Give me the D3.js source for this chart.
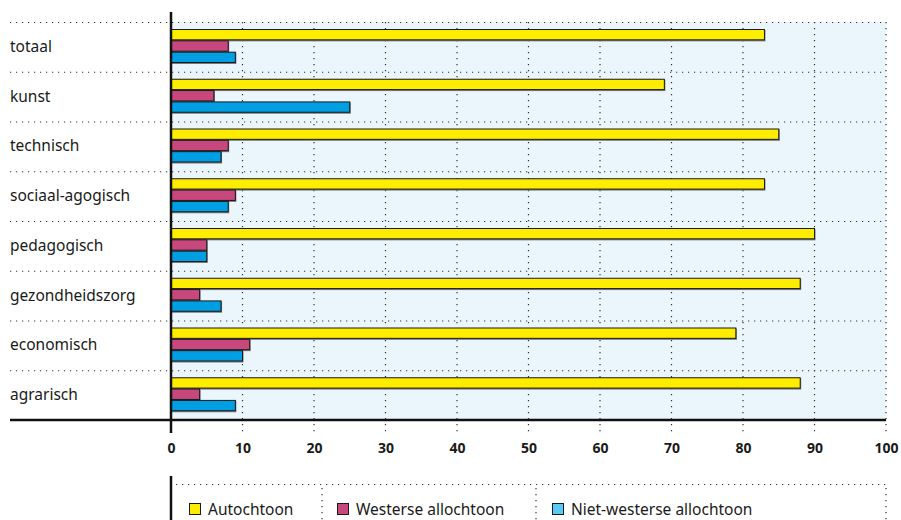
<!DOCTYPE html>
<html><head><meta charset="utf-8">
<script src="https://cdn.jsdelivr.net/npm/d3@7"></script>
<style>body{margin:0;background:#fff;}svg{display:block;}</style>
</head><body>
<svg id="c" width="901" height="520"></svg>
<script>
const categories = ["totaal","kunst","technisch","sociaal-agogisch","pedagogisch","gezondheidszorg","economisch","agrarisch"];
const seriesNames = ["Autochtoon","Westerse allochtoon","Niet-westerse allochtoon"];
const autochtoon = [83,69,85,83,90,88,79,88];
const westerse = [8,6,8,9,5,4,11,4];
const nietWesterse = [9,25,7,8,5,7,10,9];
const tickValues = [0,10,20,30,40,50,60,70,80,90,100];

const barColors = ["#ffed00","#c8487e","#009fe3"];
const legendColors = ["#ffed00","#c8487e","#5bc8f5"];
const series = [autochtoon, westerse, nietWesterse];

const svg = d3.select("#c");
const x = d3.scaleLinear().domain([0,100]).range([171,886]);
const y = d3.scaleBand().domain(categories).range([22,420]);
const inner = d3.scaleBand().domain(d3.range(3)).range([7,41]);
const font = "'Noto Sans', 'Open Sans', sans-serif";

svg.append("rect").attr("x",x(0)).attr("y",22).attr("width",x(100)-x(0)).attr("height",420-22).attr("fill","#eaf5fc");

categories.forEach(c=>{
  svg.append("line").attr("x1",10).attr("x2",x(100)).attr("y1",y(c)+0.5).attr("y2",y(c)+0.5)
    .attr("stroke","#333").attr("stroke-width",1.2).attr("stroke-dasharray","1.2,4.8");
});
tickValues.slice(1).forEach(t=>{
  svg.append("line").attr("x1",x(t)).attr("x2",x(t)).attr("y1",22).attr("y2",433)
    .attr("stroke","#333").attr("stroke-width",1.2).attr("stroke-dasharray","1.2,4.8");
});

series.forEach((vals,si)=>{
  const g = svg.append("g");
  g.selectAll("rect.sh").data(vals).join("rect")
    .attr("x",x(0)).attr("y",(d,i)=>y(categories[i])+inner(si)+1)
    .attr("width",d=>x(d)-x(0)+1).attr("height",inner.bandwidth())
    .attr("fill","#777");
  g.selectAll("rect.b").data(vals).join("rect")
    .attr("x",x(0)).attr("y",(d,i)=>y(categories[i])+inner(si)+0.5)
    .attr("width",d=>x(d)-x(0)).attr("height",inner.bandwidth()-1)
    .attr("fill",barColors[si]).attr("stroke","#1a1a1a").attr("stroke-width",1);
});

svg.selectAll("text.cat").data(categories).join("text")
  .attr("x",10).attr("y",c=>y(c)+y.bandwidth()/2+5)
  .attr("font-family",font).attr("font-size",15.5).attr("fill","#1a1a1a").text(c=>c);

svg.append("line").attr("x1",10).attr("x2",x(100)).attr("y1",420).attr("y2",420).attr("stroke","#111").attr("stroke-width",2.5);
svg.append("line").attr("x1",x(0)).attr("x2",x(0)).attr("y1",12).attr("y2",433).attr("stroke","#111").attr("stroke-width",2.5);

const xAxis = d3.axisBottom(x).tickValues(tickValues).tickSize(0).tickPadding(0);
const ax = svg.append("g").attr("transform","translate(0,449)").call(xAxis);
ax.select(".domain").remove();
ax.selectAll("text").attr("font-family","'Open Sans', sans-serif").attr("font-weight","bold")
  .attr("font-size",14).attr("fill","#1a1a1a").attr("dy","0.32em");

svg.append("line").attr("x1",x(0)).attr("x2",x(0)).attr("y1",476).attr("y2",520).attr("stroke","#111").attr("stroke-width",2.5);
svg.append("line").attr("x1",176).attr("x2",x(100)).attr("y1",484.5).attr("y2",484.5)
  .attr("stroke","#333").attr("stroke-width",1.2).attr("stroke-dasharray","1.2,4.8");
[322,536,886].forEach(sx=>{
  svg.append("line").attr("x1",sx).attr("x2",sx).attr("y1",488).attr("y2",520)
    .attr("stroke","#333").attr("stroke-width",1.2).attr("stroke-dasharray","1.2,4.8");
});
const legendX = [189,337,552];
seriesNames.forEach((n,i)=>{
  svg.append("rect").attr("x",legendX[i]+0.5).attr("y",503.5).attr("width",11).attr("height",11)
    .attr("fill",legendColors[i]).attr("stroke","#1a1a1a").attr("stroke-width",1);
  svg.append("text").attr("x",legendX[i]+19).attr("y",515).attr("font-family",font)
    .attr("font-size",15.5).attr("fill","#1a1a1a").text(n);
});
</script>
</body></html>
